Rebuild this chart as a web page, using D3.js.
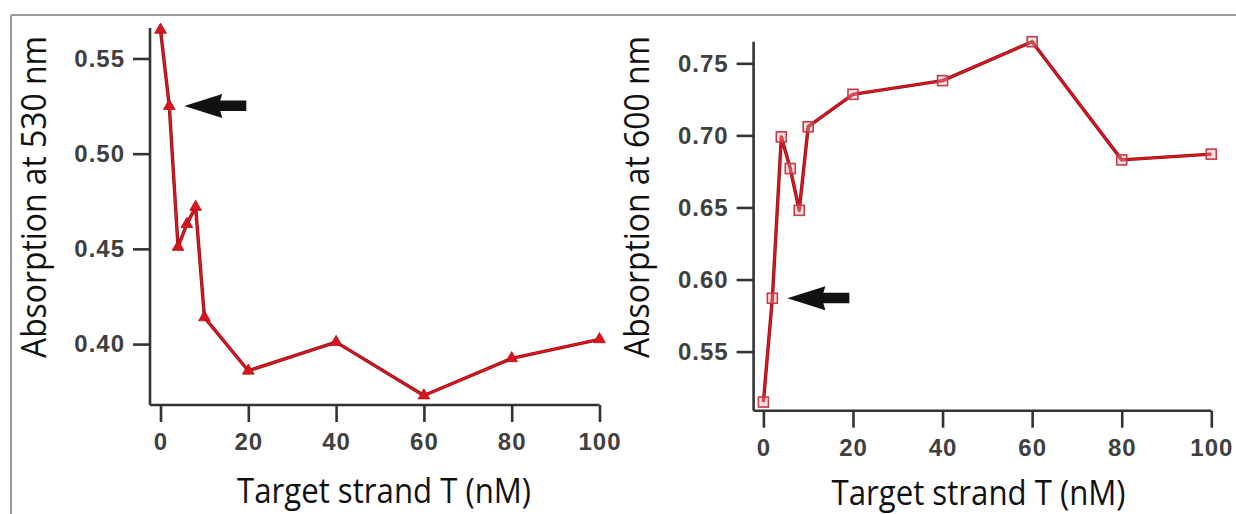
<!DOCTYPE html>
<html>
<head>
<meta charset="utf-8">
<script src="https://cdn.jsdelivr.net/npm/d3@7"></script>
<style>
  html, body { margin: 0; padding: 0; background: #fff; }
  svg { display: block; }
</style>
</head>
<body>
<div id="chart"></div>
<script>
// ---- Data ----
const concentrations = [0, 2, 4, 6, 8, 10, 20, 40, 60, 80, 100];
const abs530 = [0.565, 0.525, 0.451, 0.463, 0.472, 0.414, 0.386, 0.401, 0.373, 0.3925, 0.4025];
const abs600 = [0.515, 0.587, 0.699, 0.677, 0.648, 0.706, 0.7285, 0.738, 0.765, 0.683, 0.687];
const xTicks = [0, 20, 40, 60, 80, 100];
const yTicks530 = [0.40, 0.45, 0.50, 0.55];
const yTicks600 = [0.55, 0.60, 0.65, 0.70, 0.75];
const xTitle = "Target strand T (nM)";
const yTitle530 = "Absorption at 530 nm";
const yTitle600 = "Absorption at 600 nm";
const arrowAt = 2; // concentration the arrows point to

const W = 1236, H = 514;
const svg = d3.select("#chart").append("svg").attr("width", W).attr("height", H);

// frame lines (cropped figure border)
svg.append("line").attr("x1", 11).attr("x2", W).attr("y1", 15).attr("y2", 15)
  .attr("stroke", "#9a9a9a").attr("stroke-width", 2);
svg.append("line").attr("x1", 11).attr("x2", 11).attr("y1", 15).attr("y2", H)
  .attr("stroke", "#9a9a9a").attr("stroke-width", 2);

const panels = [
  { values: abs530, yTicks: yTicks530, yTitle: yTitle530, marker: "triangle",
    xRange: [160.5, 599.5], yRange: [405, 28], yDomain: [0.368, 0.566], axisX: 150,
    yTitleX: 46, yTitleY: 197, xTitleX: 384, xTitleY: 503 },
  { values: abs600, yTicks: yTicks600, yTitle: yTitle600, marker: "square",
    xRange: [763.4, 1211.3], yRange: [410.7, 41.7], yDomain: [0.509, 0.765], axisX: 753.6,
    yTitleX: 649, yTitleY: 197, xTitleX: 978.5, xTitleY: 505 }
];

const axisColor = "#333";
const tickFont = "'Liberation Sans', Arial, sans-serif";
const titleFont = "'Open Sans', 'Noto Sans', sans-serif";

panels.forEach(p => {
  const x = d3.scaleLinear().domain([0, 100]).range(p.xRange);
  const y = d3.scaleLinear().domain(p.yDomain).range(p.yRange);
  const g = svg.append("g");
  const xAxisY = p.yRange[0];

  // y axis
  const yAxis = d3.axisLeft(y).tickValues(p.yTicks).tickFormat(d3.format(".2f"))
    .tickSize(17).tickPadding(8);
  const ya = g.append("g").attr("transform", `translate(${p.axisX},0)`).call(yAxis);
  ya.select(".domain").attr("d", `M0,${p.yRange[1]}V${xAxisY}`);

  // x axis
  const xAxis = d3.axisBottom(x).tickValues(xTicks).tickSize(17).tickPadding(11);
  const xa = g.append("g").attr("transform", `translate(0,${xAxisY})`).call(xAxis);
  xa.select(".domain").attr("d", `M${p.axisX},0H${p.xRange[1]}`);

  [ya, xa].forEach(a => {
    a.select(".domain").attr("stroke", axisColor).attr("stroke-width", 2.6).attr("fill", "none");
    a.selectAll(".tick line").attr("stroke", axisColor).attr("stroke-width", 2.6);
    a.selectAll(".tick text").attr("fill", "#404040")
      .style("font-family", tickFont).style("font-size", "24px")
      .style("font-weight", "bold").style("letter-spacing", "1px");
  });

  // axis titles
  g.append("text")
    .attr("transform", `translate(${p.yTitleX},${p.yTitleY}) rotate(-90)`)
    .attr("text-anchor", "middle")
    .attr("textLength", 322).attr("lengthAdjust", "spacingAndGlyphs")
    .style("font-family", titleFont).style("font-size", "35px").attr("fill", "#111")
    .text(p.yTitle);
  g.append("text")
    .attr("x", p.xTitleX).attr("y", p.xTitleY)
    .attr("text-anchor", "middle")
    .attr("textLength", 294).attr("lengthAdjust", "spacingAndGlyphs")
    .style("font-family", titleFont).style("font-size", "35px").attr("fill", "#111")
    .text(xTitle);

  const pts = concentrations.map((c, i) => [c, p.values[i]]);
  const line = d3.line().x(d => x(d[0])).y(d => y(d[1]));

  g.append("path").datum(pts).attr("d", line)
    .attr("fill", "none").attr("stroke", "#7a1a1f").attr("stroke-width", 3.4)
    .attr("stroke-linejoin", "round");
  g.append("path").datum(pts).attr("d", line)
    .attr("fill", "none").attr("stroke", "#e3121c").attr("stroke-width", 2)
    .attr("stroke-linejoin", "round");

  if (p.marker === "triangle") {
    const tri = d3.symbol().type(d3.symbolTriangle).size(60);
    g.selectAll(".m").data(pts).join("path")
      .attr("transform", d => `translate(${x(d[0])},${y(d[1])})`)
      .attr("d", tri).attr("fill", "#d8141e").attr("stroke", "#b01018").attr("stroke-width", 0.8);
  } else {
    g.selectAll(".m").data(pts).join("rect")
      .attr("x", d => x(d[0]) - 5).attr("y", d => y(d[1]) - 5)
      .attr("width", 10).attr("height", 10)
      .attr("fill", "rgba(240,170,175,0.35)").attr("stroke", "#c83a48").attr("stroke-width", 1.6);
  }

  // arrow pointing at the data point at concentration arrowAt
  const ai = concentrations.indexOf(arrowAt);
  const tipX = x(arrowAt) + 15, tipY = y(p.values[ai]);
  const arrow = [
    [tipX, tipY], [tipX + 38, tipY - 12], [tipX + 36, tipY - 5.5], [tipX + 62, tipY - 5.5],
    [tipX + 62, tipY + 5], [tipX + 36, tipY + 5], [tipX + 38, tipY + 12]
  ];
  g.append("path").attr("d", "M" + arrow.map(a => a.join(",")).join("L") + "Z")
    .attr("fill", "#111");
});
</script>
</body>
</html>
